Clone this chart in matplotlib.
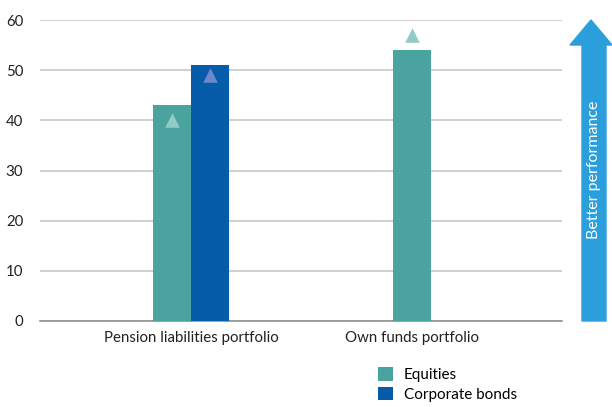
import matplotlib.pyplot as plt
from matplotlib.patches import Polygon

categories = ['Pension liabilities portfolio', 'Own funds portfolio']
equities = [43, 54]
corp_bonds = [51, None]
equities_marker = [40, 57]
bonds_marker = [49, None]

teal = '#4aa39e'
blue = '#065ca9'

plt.rcParams['font.family'] = ['Lato', 'DejaVu Sans']

fig = plt.figure(figsize=(6.12, 4.07), dpi=100)
ax = fig.add_axes([40/612, 86/407, 522/612, 301/407])

w = 0.172
# pension: two bars side by side, own funds: single bar centered
eq_x = [0 - w/2, 1]
bd_x = [0 + w/2, None]

ax.bar(eq_x, equities, width=w, color=teal, label='Equities', zorder=3)
ax.bar([bd_x[0]], [corp_bonds[0]], width=w, color=blue, label='Corporate bonds', zorder=3)

ax.scatter(eq_x, equities_marker, marker='^', s=110, color='#93cbc6', zorder=4, linewidths=0)
ax.scatter([bd_x[0]], [bonds_marker[0]], marker='^', s=110, color='#6d88c9', zorder=4, linewidths=0)

ax.set_xlim(-0.683, 1.68)
ax.set_ylim(0, 60)
ax.set_yticks(range(0, 61, 10))
ax.set_xticks([0, 1])
ax.set_xticklabels(categories, fontsize=10.8, color='#222222')
ax.tick_params(axis='y', length=0, pad=12, labelsize=10.8, labelcolor='#222222')
ax.tick_params(axis='x', length=0, pad=7)
ax.grid(axis='y', color='#c4c4c4', linewidth=1.1, zorder=0)
for s in ['top', 'right', 'left']:
    ax.spines[s].set_visible(False)
ax.spines['bottom'].set_color('#888888')
ax.spines['bottom'].set_linewidth(1.1)

leg = fig.legend(loc='upper left', bbox_to_anchor=(372/612, 1 - 361/407), frameon=False,
                 fontsize=11, handlelength=1.0, handleheight=1.0, handletextpad=0.7,
                 labelspacing=0.3, borderaxespad=0)

# better performance arrow
pts = [(582, 321), (606, 321), (606, 45), (612, 45), (591, 20), (570, 45), (582, 45)]
arrow = Polygon([(x/612, 1 - y/407) for x, y in pts], closed=True,
                transform=fig.transFigure, color='#2a9fdc')
fig.patches.append(arrow)
fig.text(594/612, 1 - 170/407, 'Better performance', rotation=90, color='white',
         fontsize=11.5, ha='center', va='center')

fig.savefig('out.png', dpi=100)
